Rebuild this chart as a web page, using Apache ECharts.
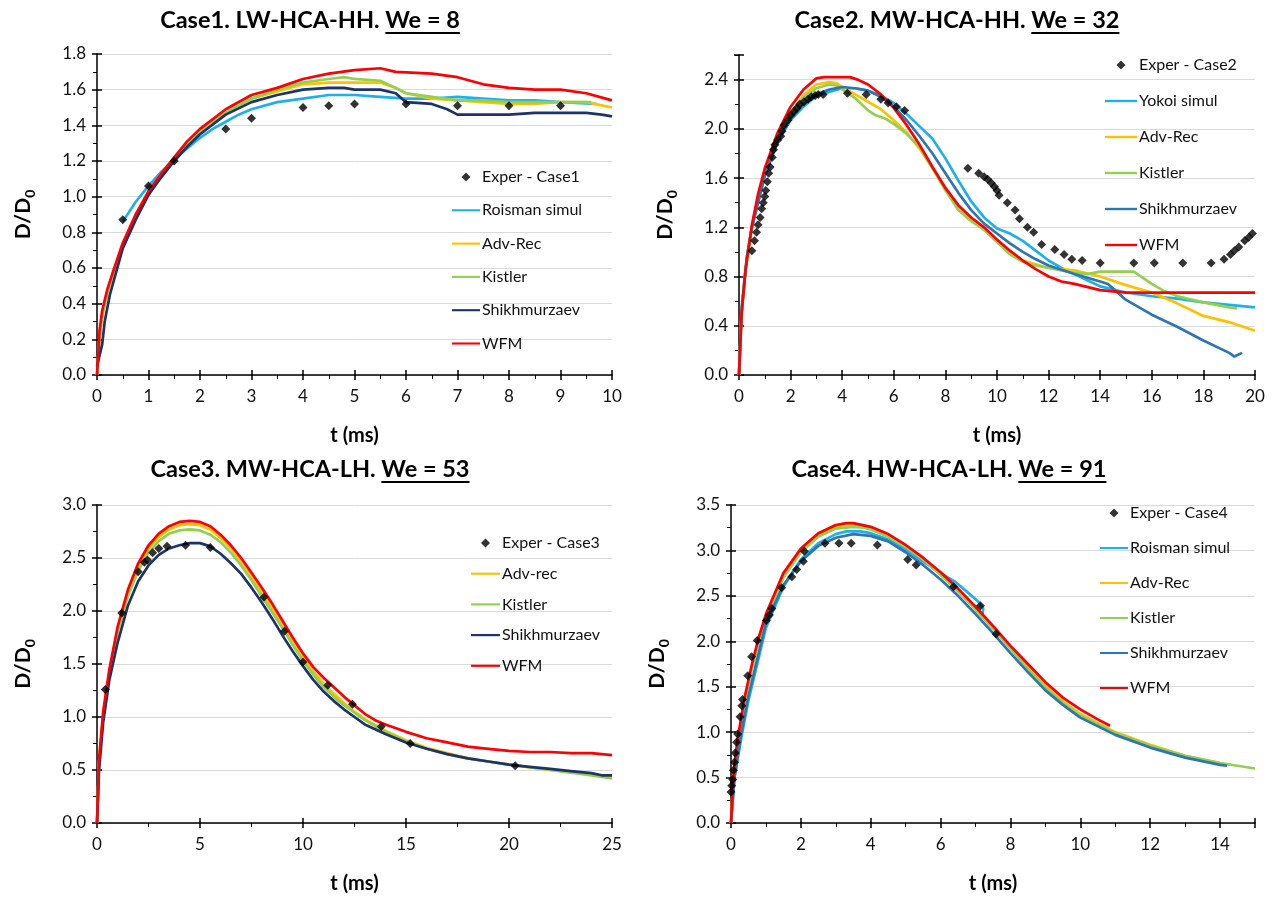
<!DOCTYPE html>
<html><head><meta charset="utf-8">
<script src="https://cdn.jsdelivr.net/npm/echarts@6/dist/echarts.min.js"></script>
<style>html,body{margin:0;padding:0;background:#fff}#c{width:1275px;height:898px}</style>
</head><body><div id="c"></div>
<script>
// ---------------- DATA ----------------
// Case 1 (We = 8)
const c1Exper = [[0.5,0.87],[1.0,1.06],[1.5,1.20],[2.5,1.38],[3.0,1.44],[4.0,1.50],[4.5,1.51],[5.0,1.52],[6.0,1.52],[7.0,1.51],[8.0,1.51],[9.0,1.51]];
const c1Roisman = [[0.5,0.86],[0.75,0.97],[1,1.06],[1.25,1.14],[1.5,1.21],[1.75,1.27],[2,1.33],[2.25,1.38],[2.5,1.42],[2.75,1.46],[3,1.49],[3.5,1.53],[4,1.55],[4.5,1.57],[5,1.57],[5.5,1.56],[6,1.55],[6.5,1.55],[7,1.56],[7.5,1.55],[8,1.54],[8.5,1.54],[9,1.53],[9.7,1.52]];
const c1AdvRec = [[0,0],[0.05,0.22],[0.1,0.33],[0.2,0.46],[0.3,0.56],[0.5,0.73],[0.75,0.89],[1,1.02],[1.25,1.12],[1.5,1.21],[1.75,1.29],[2,1.36],[2.5,1.47],[3,1.55],[3.5,1.59],[4,1.63],[4.5,1.64],[5,1.64],[5.5,1.64],[5.8,1.61],[6,1.58],[6.5,1.55],[7,1.54],[7.5,1.53],[8,1.52],[8.5,1.52],[9,1.53],[9.5,1.53],[10,1.50]];
const c1Kistler = [[0,0],[0.05,0.22],[0.1,0.33],[0.2,0.46],[0.3,0.56],[0.5,0.73],[0.75,0.89],[1,1.03],[1.25,1.13],[1.5,1.22],[1.75,1.30],[2,1.37],[2.5,1.47],[3,1.55],[3.5,1.60],[4,1.64],[4.5,1.66],[4.8,1.67],[5,1.66],[5.5,1.65],[5.8,1.61],[6,1.58],[6.5,1.56],[7,1.54],[7.5,1.54],[8,1.53],[8.5,1.53],[9,1.53],[9.6,1.53]];
const c1Shikh = [[0,0.05],[0.1,0.17],[0.15,0.3],[0.25,0.45],[0.5,0.71],[0.75,0.87],[1,1.01],[1.25,1.11],[1.5,1.2],[1.75,1.28],[2,1.35],[2.5,1.46],[3,1.53],[3.5,1.57],[4,1.60],[4.5,1.61],[4.8,1.61],[5,1.60],[5.5,1.60],[5.8,1.58],[6,1.53],[6.5,1.52],[6.8,1.49],[7,1.46],[7.5,1.46],[8,1.46],[8.5,1.47],[9,1.47],[9.5,1.47],[9.8,1.46],[10,1.45]];
const c1WFM = [[0,0],[0.05,0.25],[0.1,0.36],[0.2,0.48],[0.3,0.57],[0.5,0.74],[0.75,0.9],[1,1.03],[1.25,1.13],[1.5,1.22],[1.75,1.31],[2,1.38],[2.5,1.49],[3,1.57],[3.5,1.61],[4,1.66],[4.5,1.69],[5,1.71],[5.5,1.72],[5.8,1.70],[6.5,1.69],[7,1.67],[7.5,1.63],[8,1.61],[8.5,1.60],[9,1.60],[9.5,1.58],[10,1.54]];

// Case 2 (We = 32)
const c2Exper = [[0.5,1.01],[0.6,1.09],[0.68,1.16],[0.74,1.22],[0.82,1.28],[0.88,1.35],[0.94,1.40],[1.0,1.45],[1.04,1.50],[1.1,1.57],[1.15,1.64],[1.21,1.69],[1.29,1.77],[1.34,1.83],[1.39,1.87],[1.5,1.91],[1.62,1.94],[1.67,1.98],[1.75,2.03],[1.89,2.07],[2.0,2.11],[2.13,2.14],[2.25,2.17],[2.36,2.20],[2.52,2.22],[2.68,2.24],[2.8,2.26],[2.95,2.27],[3.07,2.28],[3.26,2.28],[4.2,2.29],[4.93,2.28],[5.5,2.24],[5.78,2.21],[6.1,2.18],[6.42,2.15],
  [8.87,1.68],[9.29,1.64],[9.5,1.61],[9.64,1.59],[9.78,1.56],[9.9,1.53],[10.0,1.50],[10.08,1.46],[10.4,1.40],[10.7,1.34],[10.87,1.27],[11.18,1.20],[11.42,1.16],[11.73,1.06],[12.24,1.02],[12.6,0.98],[12.9,0.94],[13.3,0.93],[14.0,0.91],[15.3,0.91],[16.1,0.91],[17.2,0.91],[18.3,0.91],[18.8,0.94],[19.05,0.98],[19.2,1.01],[19.37,1.04],[19.6,1.09],[19.76,1.12],[19.9,1.15]];
const c2Yokoi = [[0,0],[0.1,0.55],[0.3,0.95],[0.5,1.2],[1,1.62],[1.5,1.9],[2,2.07],[2.5,2.18],[3,2.27],[3.5,2.30],[4,2.33],[4.5,2.33],[5,2.31],[5.5,2.27],[6,2.21],[6.5,2.12],[7,2.02],[7.5,1.92],[8,1.76],[8.5,1.58],[9,1.41],[9.5,1.28],[10,1.19],[10.5,1.15],[11,1.09],[11.5,1.01],[12,0.93],[12.5,0.87],[13,0.82],[13.5,0.77],[14,0.72],[15,0.67],[16,0.64],[17,0.62],[18,0.59],[19,0.57],[20,0.55]];
const c2AdvRec = [[0,0],[0.1,0.5],[0.25,0.85],[0.5,1.2],[0.75,1.45],[1,1.64],[1.5,1.93],[2,2.13],[2.5,2.27],[3,2.36],[3.5,2.38],[3.8,2.37],[4,2.34],[4.5,2.28],[5,2.22],[5.5,2.16],[6,2.07],[6.5,1.97],[7,1.84],[7.5,1.68],[8,1.52],[8.5,1.37],[9,1.26],[9.5,1.18],[10,1.09],[10.5,1.0],[11,0.93],[11.5,0.90],[12,0.87],[13,0.85],[14,0.80],[15,0.73],[16,0.67],[17,0.58],[18,0.48],[19,0.43],[20,0.36]];
const c2Kistler = [[0,0],[0.1,0.5],[0.25,0.85],[0.5,1.2],[0.75,1.45],[1,1.64],[1.5,1.92],[2,2.11],[2.5,2.25],[3,2.33],[3.5,2.36],[3.8,2.35],[4,2.32],[4.5,2.25],[5,2.15],[5.3,2.11],[5.7,2.08],[6,2.04],[6.5,1.96],[7,1.85],[7.5,1.68],[8,1.50],[8.5,1.34],[9,1.25],[9.5,1.18],[10,1.08],[10.5,0.98],[11,0.92],[11.5,0.89],[12,0.87],[13,0.83],[13.5,0.82],[14,0.84],[15.3,0.84],[16,0.74],[16.5,0.68],[17,0.64],[18,0.59],[19,0.55],[19.3,0.54]];
const c2Shikh = [[0,0],[0.1,0.5],[0.3,0.95],[0.5,1.2],[1,1.62],[1.5,1.9],[2,2.08],[2.5,2.2],[3,2.28],[3.5,2.32],[4,2.34],[4.5,2.33],[5,2.31],[5.5,2.26],[6,2.18],[6.5,2.07],[7,1.94],[7.5,1.80],[8,1.64],[8.5,1.48],[9,1.34],[9.5,1.23],[10,1.15],[10.5,1.07],[11,1.0],[11.5,0.94],[12,0.89],[13,0.82],[13.5,0.79],[14,0.76],[14.3,0.74],[15,0.61],[16,0.49],[17,0.39],[18,0.28],[19,0.18],[19.2,0.15],[19.5,0.18]];
const c2WFM = [[0,0],[0.1,0.5],[0.25,0.85],[0.5,1.22],[0.75,1.48],[1,1.68],[1.5,1.97],[2,2.18],[2.5,2.32],[3,2.41],[3.3,2.42],[4.3,2.42],[4.6,2.40],[5,2.36],[5.5,2.28],[6,2.17],[6.5,2.03],[7,1.87],[7.5,1.69],[8,1.52],[8.5,1.38],[9,1.28],[9.5,1.20],[10,1.10],[10.5,1.01],[11,0.93],[11.5,0.86],[12,0.80],[12.5,0.76],[13,0.74],[14,0.69],[15,0.67],[16,0.67],[18,0.67],[20,0.67]];

// Case 3 (We = 53)
const c3Exper = [[0.4,1.26],[1.2,1.98],[2.0,2.37],[2.3,2.46],[2.45,2.48],[2.7,2.55],[3.0,2.59],[3.4,2.61],[4.3,2.62],[5.5,2.60],[8.1,2.13],[9.1,1.81],[10.0,1.52],[11.2,1.30],[12.4,1.12],[13.8,0.91],[15.2,0.75],[20.3,0.54]];
const c3AdvRec = [[0,0],[0.1,0.58],[0.3,1.02],[0.6,1.42],[1,1.82],[1.5,2.17],[2,2.42],[2.5,2.59],[3,2.70],[3.5,2.77],[4,2.81],[4.5,2.82],[5,2.81],[5.5,2.77],[6,2.69],[6.5,2.59],[7,2.47],[7.5,2.33],[8,2.18],[8.5,2.03],[9,1.88],[9.5,1.72],[10,1.56],[10.5,1.43],[11,1.31],[11.5,1.22],[12,1.13],[12.5,1.05],[13,0.98],[14,0.87],[15,0.78],[16,0.71],[17,0.66],[18,0.61],[19,0.58],[20,0.55],[22,0.50],[24,0.46],[25,0.43]];
const c3Kistler = [[0,0],[0.1,0.57],[0.3,1.0],[0.6,1.4],[1,1.8],[1.5,2.14],[2,2.38],[2.5,2.55],[3,2.66],[3.5,2.73],[4,2.76],[4.5,2.77],[5,2.76],[5.5,2.72],[6,2.65],[6.5,2.55],[7,2.43],[7.5,2.29],[8,2.14],[8.5,1.99],[9,1.84],[9.5,1.68],[10,1.53],[10.5,1.40],[11,1.28],[11.5,1.19],[12,1.11],[12.5,1.04],[13,0.97],[14,0.86],[15,0.77],[16,0.70],[17,0.65],[18,0.61],[19,0.58],[20,0.55],[22,0.50],[24,0.45],[25,0.42]];
const c3Shikh = [[0,0],[0.1,0.5],[0.3,0.95],[0.6,1.35],[1,1.7],[1.5,2.05],[2,2.28],[2.5,2.43],[3,2.53],[3.5,2.59],[4,2.62],[4.5,2.64],[5,2.64],[5.5,2.61],[6,2.54],[6.5,2.45],[7,2.35],[7.5,2.22],[8,2.08],[8.5,1.93],[9,1.77],[9.5,1.62],[10,1.48],[10.5,1.35],[11,1.24],[11.5,1.15],[12,1.07],[12.5,1.0],[13,0.93],[14,0.84],[15,0.76],[16,0.70],[17,0.65],[18,0.61],[19,0.58],[20,0.55],[21,0.53],[22,0.51],[23,0.49],[24,0.47],[24.5,0.45],[25,0.45]];
const c3WFM = [[0,0],[0.1,0.6],[0.3,1.05],[0.6,1.45],[1,1.85],[1.5,2.2],[2,2.45],[2.5,2.62],[3,2.73],[3.5,2.80],[4,2.84],[4.5,2.85],[5,2.84],[5.5,2.80],[6,2.72],[6.5,2.62],[7,2.50],[7.5,2.36],[8,2.22],[8.5,2.07],[9,1.91],[9.5,1.75],[10,1.60],[10.5,1.47],[11,1.37],[11.5,1.28],[12,1.19],[12.5,1.11],[13,1.03],[13.5,0.97],[14,0.93],[15,0.86],[16,0.80],[17,0.76],[18,0.72],[19,0.70],[20,0.68],[21,0.67],[22,0.67],[23,0.66],[24,0.66],[25,0.64]];

// Case 4 (We = 91)
const c4Exper = [[0.0,0.34],[0.02,0.41],[0.05,0.48],[0.07,0.58],[0.1,0.67],[0.12,0.77],[0.16,0.89],[0.19,0.98],[0.26,1.17],[0.31,1.29],[0.33,1.36],[0.48,1.62],[0.59,1.83],[0.75,2.01],[1.01,2.23],[1.1,2.29],[1.17,2.36],[1.45,2.59],[1.74,2.71],[1.88,2.79],[2.07,2.88],[2.1,2.99],[2.69,3.08],[3.09,3.08],[3.44,3.08],[4.19,3.06],[5.06,2.90],[5.3,2.84],[6.37,2.60],[7.14,2.39],[7.59,2.08]];
const c4Roisman = [[0,0],[0.1,0.5],[0.3,0.95],[0.5,1.35],[1,2.15],[1.5,2.6],[2,2.9],[2.5,3.08],[3,3.18],[3.3,3.21],[3.7,3.21],[4,3.19],[4.5,3.12],[5,3.01],[5.5,2.88],[6,2.75],[6.4,2.66],[6.8,2.53],[7.1,2.43],[7.22,2.36],[7.2,2.29]];
const c4AdvRec = [[0,0],[0.05,0.38],[0.1,0.62],[0.2,0.92],[0.4,1.37],[0.6,1.72],[0.8,2.02],[1,2.27],[1.5,2.72],[2,3.0],[2.5,3.17],[3,3.26],[3.4,3.28],[3.7,3.28],[4,3.25],[4.5,3.17],[5,3.05],[5.5,2.91],[6,2.74],[6.5,2.56],[7,2.36],[7.5,2.15],[8,1.93],[8.5,1.72],[9,1.51],[9.5,1.34],[10,1.20],[11,1.0],[12,0.86],[13,0.74],[14,0.66],[14.3,0.64]];
const c4Kistler = [[0,0],[0.05,0.37],[0.1,0.6],[0.2,0.9],[0.4,1.35],[0.6,1.7],[0.8,2.0],[1,2.25],[1.5,2.7],[2,2.98],[2.5,3.15],[3,3.24],[3.5,3.26],[3.8,3.25],[4,3.23],[4.5,3.15],[5,3.04],[5.5,2.90],[6,2.73],[6.5,2.55],[7,2.35],[7.5,2.14],[8,1.92],[8.5,1.70],[9,1.49],[9.5,1.32],[10,1.18],[11,0.99],[12,0.85],[13,0.74],[14,0.66],[15,0.60]];
const c4Shikh = [[0,0],[0.1,0.5],[0.3,1.0],[0.5,1.4],[1,2.2],[1.5,2.62],[2,2.88],[2.5,3.05],[3,3.14],[3.5,3.18],[4,3.16],[4.5,3.10],[5,2.98],[5.5,2.84],[6,2.68],[6.5,2.50],[7,2.30],[7.5,2.09],[8,1.87],[8.5,1.66],[9,1.46],[9.5,1.30],[10,1.16],[11,0.97],[12,0.83],[13,0.72],[14,0.64],[14.2,0.63]];
const c4WFM = [[0,0],[0.05,0.4],[0.1,0.65],[0.2,0.95],[0.4,1.4],[0.6,1.75],[0.8,2.05],[1,2.3],[1.5,2.75],[2,3.02],[2.5,3.19],[3,3.28],[3.3,3.30],[3.5,3.30],[4,3.26],[4.5,3.18],[5,3.06],[5.5,2.92],[6,2.76],[6.5,2.58],[7,2.38],[7.5,2.17],[8,1.95],[8.5,1.75],[9,1.55],[9.5,1.38],[10,1.25],[10.5,1.14],[10.85,1.07]];

// Axis tick settings [min, max, interval]
const c1XTicks = [0, 10, 1];   const c1YTicks = [0, 1.8, 0.2];
const c2XTicks = [0, 20, 2];   const c2YTicks = [0, 2.6, 0.4];
const c3XTicks = [0, 25, 5];   const c3YTicks = [0, 3.0, 0.5];
const c4XTicks = [0, 15, 2];   const c4YTicks = [0, 3.5, 0.5];

// ---------------- STYLE / LAYOUT ----------------
const FONT = 'Lato, "Open Sans", sans-serif';
const COL = {light:'#1fb0ec', yellow:'#ffc000', green:'#92d050', navy:'#1c336d', blue:'#2e75b6', red:'#ff0000'};
const LINE_ICON = 'path://M0,0 L40,0 L40,3 L0,3 Z';
const DIAMOND_ICON = 'path://M5,0 L10,5 L5,10 L0,5 Z';

const panels = [
  {title:'Case1. LW-HCA-HH. ', we:'We = 8', cx:310, ty:20,
   grid:{left:97, top:54, width:515, height:321}, xt:c1XTicks, yt:c1YTicks,
   legend:{left:447, top:164, gap:17.3, w:28},
   series:[['Exper - Case1', c1Exper, null], ['Roisman simul', c1Roisman, COL.light], ['Adv-Rec', c1AdvRec, COL.yellow], ['Kistler', c1Kistler, COL.green], ['Shikhmurzaev', c1Shikh, COL.navy], ['WFM', c1WFM, COL.red]]},
  {title:'Case2. MW-HCA-HH. ', we:'We = 32', cx:957, ty:20,
   grid:{left:739, top:55, width:516, height:320}, xt:c2XTicks, yt:c2YTicks,
   legend:{left:1100, top:52, gap:20, w:32},
   series:[['Exper - Case2', c2Exper, null], ['Yokoi simul', c2Yokoi, COL.light], ['Adv-Rec', c2AdvRec, COL.yellow], ['Kistler', c2Kistler, COL.green], ['Shikhmurzaev', c2Shikh, COL.blue], ['WFM', c2WFM, COL.red]]},
  {title:'Case3. MW-HCA-LH. ', we:'We = 53', cx:310, ty:469,
   grid:{left:97, top:505, width:515, height:318}, xt:c3XTicks, yt:c3YTicks,
   legend:{left:466, top:530, gap:14.7, w:29},
   series:[['Exper - Case3', c3Exper, null], ['Adv-rec', c3AdvRec, COL.yellow], ['Kistler', c3Kistler, COL.green], ['Shikhmurzaev', c3Shikh, COL.navy], ['WFM', c3WFM, COL.red]]},
  {title:'Case4. HW-HCA-LH. ', we:'We = 91', cx:949, ty:469,
   grid:{left:731, top:505, width:524, height:318}, xt:c4XTicks, yt:c4YTicks,
   legend:{left:1095, top:500, gap:19, w:28},
   series:[['Exper - Case4', c4Exper, null], ['Roisman simul', c4Roisman, COL.light], ['Adv-Rec', c4AdvRec, COL.yellow], ['Kistler', c4Kistler, COL.green], ['Shikhmurzaev', c4Shikh, COL.blue], ['WFM', c4WFM, COL.red]]}
];

function isMult(v, step){ const r = v/step; return Math.abs(r - Math.round(r)) < 1e-6; }

const measureCtx = document.createElement('canvas').getContext('2d');
function textW(str, font){ measureCtx.font = font; return measureCtx.measureText(str).width; }

const grids = [], xAxes = [], yAxes = [], legends = [], series = [], graphics = [];
const AX = '#000';
panels.forEach((p, i) => {
  grids.push(Object.assign({containLabel:false}, p.grid));
  const xs = {min:p.xt[0], max:p.xt[1], interval:p.xt[2]};
  const ys = {min:p.yt[0], max:p.yt[1], interval:p.yt[2]};
  xAxes.push(Object.assign({type:'value', gridIndex:i, position:'bottom',
    name:'t (ms)', nameLocation:'middle', nameGap:51,
    nameTextStyle:{fontFamily:FONT, fontSize:20, fontWeight:'bold', color:'#000'},
    axisLine:{show:true, onZero:false, lineStyle:{color:AX, width:1.5}},
    axisTick:{show:true, length:5, lineStyle:{color:AX, width:1.5}},
    minorTick:{show:true, splitNumber:2, length:4, lineStyle:{color:AX, width:1}},
    axisLabel:{fontFamily:FONT, fontSize:17, color:'#111', margin:13,
      formatter:(v)=> isMult(v, xs.interval) ? String(v) : ''},
    splitLine:{show:false}}, xs));
  xAxes.push(Object.assign({type:'value', gridIndex:i, position:'bottom',
    axisLine:{show:false}, axisTick:{show:true, inside:true, length:5, lineStyle:{color:AX, width:1.5}},
    axisLabel:{show:false}, splitLine:{show:false}}, xs));
  yAxes.push(Object.assign({type:'value', gridIndex:i, position:'left',
    name:'{a|D/D}{b|0}', nameLocation:'middle', nameGap:60,
    nameTextStyle:{rich:{
      a:{fontFamily:FONT, fontSize:21, fontWeight:'bold', color:'#000', lineHeight:28, verticalAlign:'middle'},
      b:{fontFamily:FONT, fontSize:14, fontWeight:'bold', color:'#000', lineHeight:14, verticalAlign:'bottom'}}},
    axisLine:{show:true, onZero:false, lineStyle:{color:AX, width:1.5}},
    axisTick:{show:true, length:5, lineStyle:{color:AX, width:1.5}},
    minorTick:{show:true, splitNumber:2, length:4, lineStyle:{color:AX, width:1}},
    axisLabel:{fontFamily:FONT, fontSize:17, color:'#111', margin:11,
      formatter:(v)=> isMult(v, ys.interval) ? v.toFixed(1) : ''},
    splitLine:{show:true, showMaxLine: isMult(ys.max, ys.interval), lineStyle:{color:'#d9d9d9', width:1}}}, ys));
  yAxes.push(Object.assign({type:'value', gridIndex:i, position:'left',
    axisLine:{show:false}, axisTick:{show:true, inside:true, length:5, lineStyle:{color:AX, width:1.5}},
    axisLabel:{show:false}, splitLine:{show:false}}, ys));

  const legendData = [];
  p.series.forEach(([name, data, color]) => {
    const sid = (i+1) + '|' + name;
    if (color === null) {
      series.push({type:'scatter', name:sid, xAxisIndex:2*i, yAxisIndex:2*i, data:data,
        symbol:'diamond', symbolSize:9, itemStyle:{color:'#000'}, z:5, silent:true});
      legendData.push({name:sid, icon:DIAMOND_ICON, itemStyle:{color:'#000', borderWidth:0}});
    } else {
      series.push({type:'line', name:sid, xAxisIndex:2*i, yAxisIndex:2*i, data:data,
        symbol:'none', smooth:false, lineStyle:{color:color, width:2.7}, itemStyle:{color:color}, z:3, silent:true});
      legendData.push({name:sid, icon:LINE_ICON, itemStyle:{color:color, borderWidth:0}});
    }
  });
  legends.push({orient:'vertical', left:p.legend.left, top:p.legend.top, itemGap:p.legend.gap,
    itemWidth:p.legend.w, itemHeight:9, selectedMode:false, data:legendData, symbolKeepAspect:true,
    itemStyle:{borderWidth:0}, lineStyle:{width:0},
    formatter:(n)=> n.split('|')[1],
    textStyle:{fontFamily:FONT, fontSize:16, color:'#111', lineHeight:16, padding:[0,0,0,-3]}});

  const tf = 'bold 23.5px ' + FONT;
  const w1 = textW(p.title, tf), w2 = textW(p.we, tf);
  const x0 = p.cx - (w1 + w2)/2;
  graphics.push({type:'text', x:x0, y:p.ty, style:{text:p.title + p.we, font:tf, fill:'#000',
    textAlign:'left', textVerticalAlign:'middle', align:'left', verticalAlign:'middle'}});
  graphics.push({type:'line', shape:{x1:x0 + w1, y1:p.ty + 13, x2:x0 + w1 + w2, y2:p.ty + 13},
    style:{stroke:'#000', lineWidth:2}});
});

const chart = echarts.init(document.getElementById('c'), null, {renderer:'canvas'});
chart.setOption({
  animation:false, backgroundColor:'#fff',
  grid:grids, xAxis:xAxes, yAxis:yAxes, legend:legends, series:series, graphic:graphics
});
</script></body></html>
